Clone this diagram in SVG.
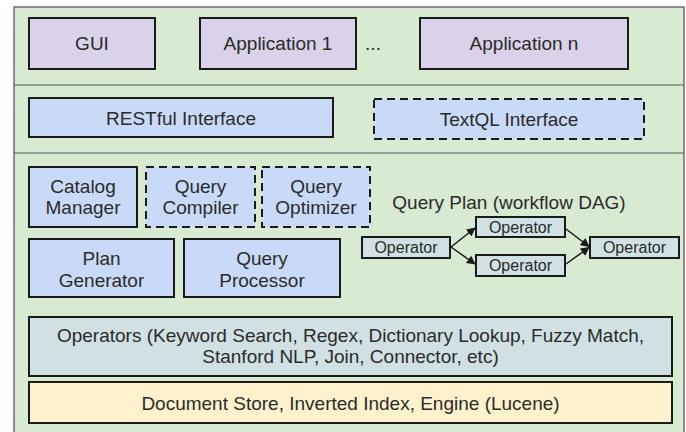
<svg xmlns="http://www.w3.org/2000/svg" width="686" height="432" viewBox="0 0 686 432">
<defs>
<style>
text{font-family:"Liberation Sans",Arial,sans-serif;fill:#2b2b2b;text-anchor:middle}
.t{font-size:19px}
.s{font-size:16px}
.box{stroke:#1a1a1a;stroke-width:2}
.dash{stroke:#1a1a1a;stroke-width:2;stroke-dasharray:8,5}
.app{fill:#d9d2e9}
.blue{fill:#c9daf8}
.op{fill:#d0e0e3}
.doc{fill:#fff2cc}
.edge{stroke:#1a1a1a;stroke-width:1.5;fill:none;marker-end:url(#arr)}
</style>
<marker id="arr" viewBox="0 0 10 10" refX="9" refY="5" markerWidth="6" markerHeight="6" orient="auto" markerUnits="strokeWidth">
<path d="M0,0 L10,5 L0,10 z" fill="#1a1a1a"/>
</marker>
</defs>
<rect width="686" height="432" fill="#ffffff"/>
<g id="frame">
<rect x="14" y="7" width="670" height="440" fill="#d9ead3" stroke="#6e6e6e" stroke-width="1.5"/>
<line x1="14" y1="85" x2="684" y2="85" stroke="#555" stroke-width="1.2"/>
<line x1="14" y1="153" x2="684" y2="153" stroke="#555" stroke-width="1.2"/>
</g>
<g id="gui"><rect class="box app" x="29" y="18" width="126" height="51"/><text class="t" x="92" y="50">GUI</text></g>
<g id="app1"><rect class="box app" x="200" y="18" width="156" height="51"/><text class="t" x="278" y="50">Application 1</text></g>
<g id="ellipsis"><text class="t" x="373" y="50">...</text></g>
<g id="appn"><rect class="box app" x="420" y="18" width="208" height="51"/><text class="t" x="524" y="50">Application n</text></g>
<g id="restful"><rect class="box blue" x="29" y="98" width="304" height="39"/><text class="t" x="181" y="124.5">RESTful Interface</text></g>
<g id="textql"><rect class="dash blue" x="374" y="99" width="270" height="40"/><text class="t" x="509" y="125.5">TextQL Interface</text></g>
<g id="catalog"><rect class="box blue" x="29" y="167" width="108" height="60"/><text class="t" x="83" y="193">Catalog</text><text class="t" x="83" y="214">Manager</text></g>
<g id="compiler"><rect class="dash blue" x="146" y="167" width="109" height="60"/><text class="t" x="200.5" y="193">Query</text><text class="t" x="200.5" y="214">Compiler</text></g>
<g id="optimizer"><rect class="dash blue" x="262" y="167" width="108" height="60"/><text class="t" x="316" y="193">Query</text><text class="t" x="316" y="214">Optimizer</text></g>
<g id="plangen"><rect class="box blue" x="29" y="239" width="145" height="58"/><text class="t" x="101.5" y="265">Plan</text><text class="t" x="101.5" y="286.5">Generator</text></g>
<g id="processor"><rect class="box blue" x="184" y="239" width="156" height="58"/><text class="t" x="262" y="265">Query</text><text class="t" x="262" y="286.5">Processor</text></g>
<g id="queryplan-label"><text class="t" x="509" y="209">Query Plan (workflow DAG)</text></g>
<g id="op-left"><rect class="box op" x="362" y="237" width="88" height="21"/><text class="s" x="406" y="253">Operator</text></g>
<g id="op-top"><rect class="box op" x="476" y="217" width="89" height="20"/><text class="s" x="520.5" y="232.5">Operator</text></g>
<g id="op-bottom"><rect class="box op" x="476" y="255" width="89" height="21"/><text class="s" x="520.5" y="271">Operator</text></g>
<g id="op-right"><rect class="box op" x="590" y="237" width="89" height="21"/><text class="s" x="634.5" y="253">Operator</text></g>
<g id="connectors">
<line class="edge" x1="451" y1="247" x2="475" y2="228"/>
<line class="edge" x1="451" y1="247" x2="475" y2="264"/>
<line class="edge" x1="566" y1="229" x2="589" y2="246.5"/>
<line class="edge" x1="566" y1="264" x2="589" y2="247.5"/>
</g>
<g id="operators"><rect class="box op" x="29" y="317" width="643" height="59"/><text class="t" x="350.5" y="342">Operators (Keyword Search, Regex, Dictionary Lookup, Fuzzy Match,</text><text class="t" x="350.5" y="363">Stanford NLP, Join, Connector, etc)</text></g>
<g id="docstore"><rect class="box doc" x="29" y="382" width="643" height="41"/><text class="t" x="350.5" y="409.5">Document Store, Inverted Index, Engine (Lucene)</text></g>
</svg>
